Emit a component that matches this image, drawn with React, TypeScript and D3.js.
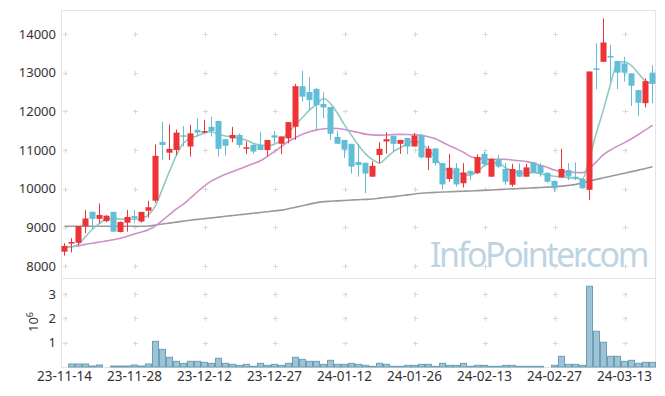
import React, { useEffect, useRef } from "react";
import * as d3 from "d3";

// 거래일
const dates = [
  "23-11-14", "23-11-15", "23-11-16", "23-11-17", "23-11-20", "23-11-21", "23-11-22", "23-11-23", "23-11-24", "23-11-27",
  "23-11-28", "23-11-29", "23-11-30", "23-12-01", "23-12-04", "23-12-05", "23-12-06", "23-12-07", "23-12-08", "23-12-11",
  "23-12-12", "23-12-13", "23-12-14", "23-12-15", "23-12-18", "23-12-19", "23-12-20", "23-12-21", "23-12-22", "23-12-26",
  "23-12-27", "23-12-28", "24-01-02", "24-01-03", "24-01-04", "24-01-05", "24-01-08", "24-01-09", "24-01-10", "24-01-11",
  "24-01-12", "24-01-15", "24-01-16", "24-01-17", "24-01-18", "24-01-19", "24-01-22", "24-01-23", "24-01-24", "24-01-25",
  "24-01-26", "24-01-29", "24-01-30", "24-01-31", "24-02-01", "24-02-02", "24-02-05", "24-02-06", "24-02-07", "24-02-08",
  "24-02-13", "24-02-14", "24-02-15", "24-02-16", "24-02-19", "24-02-20", "24-02-21", "24-02-22", "24-02-23", "24-02-26",
  "24-02-27", "24-02-28", "24-02-29", "24-03-04", "24-03-05", "24-03-06", "24-03-07", "24-03-08", "24-03-11", "24-03-12",
  "24-03-13", "24-03-14", "24-03-15", "24-03-18", "24-03-19",
];

const open = [
  8370, 8580, 8600, 9030, 9400, 9220, 9160, 9400, 8880, 9120,
  9290, 9150, 9430, 9690, 11210, 10930, 11000, 11380, 11090, 11520,
  11450, 11600, 11750, 11280, 11300, 11390, 11050, 11130, 11130, 11000,
  11380, 11160, 11300, 11600, 12650, 12500, 12580, 12190, 12110, 11340,
  11260, 11160, 10690, 10670, 10310, 10870, 11220, 11370, 11160, 11310,
  11090, 11390, 10800, 11040, 10660, 10250, 10530, 10140, 10460, 10400,
  10900, 10310, 10760, 10510, 10100, 10480, 10310, 10680, 10600, 10410,
  10200, 10290, 10480, 10310, 10250, 9970, 13110, 13280, 13430, 13300,
  13240, 12980, 12550, 12210, 13000,
];
const high = [
  8590, 8720, 9030, 9450, 9410, 9620, 9320, 9400, 9150, 9450,
  9450, 9400, 9690, 11140, 11730, 11660, 11530, 11620, 11650, 11820,
  11780, 11860, 11760, 11290, 11600, 11430, 11220, 11180, 11470, 11260,
  11490, 11350, 11720, 12710, 13050, 12880, 12600, 12490, 12110, 11500,
  11260, 11160, 11160, 10670, 10710, 11200, 11460, 11370, 11260, 11310,
  11440, 11400, 11110, 11050, 10670, 10900, 10660, 10660, 10470, 10890,
  10960, 10780, 10870, 10660, 10640, 10660, 10640, 10690, 10660, 10420,
  10210, 11030, 10660, 10680, 10260, 13030, 13760, 14400, 13720, 13310,
  13410, 12990, 12560, 12850, 13190,
];
const low = [
  8270, 8350, 8540, 8850, 8940, 9100, 9130, 8880, 8870, 8890,
  9120, 9120, 9250, 9640, 10750, 10740, 10870, 11090, 10830, 11350,
  11430, 11350, 10830, 10860, 11200, 11060, 10890, 10900, 11000, 10830,
  11170, 10890, 11170, 11260, 12250, 12030, 11540, 11820, 11260, 11160,
  10790, 10390, 10310, 9880, 10310, 10660, 10910, 10960, 10900, 10890,
  11090, 10780, 10480, 10600, 9980, 10180, 10050, 10030, 10220, 10380,
  10570, 10300, 10530, 10100, 10050, 10300, 10300, 10400, 10310, 10150,
  9920, 10290, 10220, 10220, 10000, 9710, 12570, 13280, 12770, 12570,
  12770, 12140, 11880, 12100, 12210,
];
const close = [
  8520, 8620, 9030, 9230, 9220, 9320, 9300, 8890, 9140, 9270,
  9240, 9400, 9520, 10850, 11130, 11030, 11450, 11360, 11430, 11450,
  11490, 11490, 11030, 11110, 11390, 11130, 11070, 10960, 11000, 11260,
  11320, 11350, 11720, 12650, 12380, 12290, 12160, 12100, 11420, 11160,
  11010, 10570, 10610, 10390, 10590, 11030, 11280, 11160, 11260, 11090,
  11370, 10810, 11030, 10660, 10110, 10540, 10110, 10420, 10380, 10820,
  10630, 10770, 10570, 10180, 10510, 10310, 10550, 10410, 10400, 10180,
  10010, 10510, 10310, 10270, 10010, 13030, 13070, 13780, 13410, 13000,
  13000, 12660, 12220, 12780, 12710,
];

// 거래량 (백만 주)
const volume = [
  0, 0.124, 0.124, 0.124, 0.041, 0.083, 0, 0.041, 0.041, 0.041,
  0.083, 0.041, 0.124, 1.06, 0.73, 0.4, 0.234, 0.152, 0.234, 0.234,
  0.193, 0.152, 0.358, 0.152, 0.11, 0.069, 0.11, 0.028, 0.152, 0.069,
  0.11, 0.069, 0.152, 0.4, 0.317, 0.234, 0.234, 0.11, 0.276, 0.11,
  0.11, 0.152, 0.11, 0.069, 0.028, 0.152, 0.11, 0.028, 0.028, 0.069,
  0.069, 0.11, 0.11, 0.028, 0.152, 0.069, 0.069, 0.152, 0.028, 0.069,
  0.069, 0.028, 0.028, 0.069, 0.069, 0.028, 0.028, 0.028, 0.028, 0,
  0.069, 0.441, 0.11, 0.11, 0.069, 3.33, 1.474, 1.019, 0.441, 0.441,
  0.234, 0.276, 0.152, 0.193, 0.193,
];

// 이동평균선 (5일, 20일, 60일)
const ma5 = [
  8480, 8500, 8560, 8760, 8950, 9100, 9220, 9225, 9215, 9210,
  9210, 9235, 9320, 9560, 10000, 10450, 10870, 11180, 11300, 11370,
  11440, 11470, 11400, 11360, 11340, 11305, 11250, 11170, 11130, 11112,
  11150, 11270, 11450, 11650, 11840, 12030, 12180, 12330, 12200, 11950,
  11650, 11380, 11120, 10900, 10750, 10660, 10800, 10960, 11060, 11170,
  11230, 11160, 11000, 10800, 10560, 10450, 10400, 10370, 10350, 10450,
  10600, 10660, 10670, 10540, 10460, 10400, 10400, 10420, 10380, 10350,
  10320, 10300, 10280, 10265, 10250, 10800, 11450, 12050, 12700, 13250,
  13280, 13180, 12980, 12780, 12720,
];
const ma20 = [
  8480, 8500, 8520, 8560, 8590, 8620, 8650, 8680, 8720, 8770,
  8830, 8880, 8940, 9040, 9180, 9330, 9480, 9600, 9760, 9920,
  10070, 10200, 10290, 10370, 10440, 10510, 10580, 10650, 10720, 10840,
  10960, 11090, 11220, 11320, 11410, 11470, 11520, 11545, 11560, 11555,
  11530, 11490, 11450, 11410, 11390, 11385, 11388, 11400, 11405, 11400,
  11392, 11380, 11340, 11290, 11200, 11110, 11030, 10940, 10830, 10790,
  10765, 10760, 10760, 10760, 10740, 10720, 10700, 10660, 10600, 10550,
  10480, 10440, 10430, 10420, 10414, 10520, 10700, 10880, 11000, 11100,
  11190, 11290, 11400, 11520, 11640,
];
const ma60 = [
  9030, 9030, 9030, 9030, 9030, 9030, 9030, 9030, 9030, 9030,
  9030, 9030, 9035, 9060, 9085, 9110, 9135, 9160, 9185, 9205,
  9225, 9245, 9265, 9285, 9305, 9325, 9345, 9365, 9385, 9405,
  9425, 9445, 9480, 9520, 9560, 9600, 9640, 9665, 9675, 9685,
  9695, 9705, 9715, 9722, 9733, 9755, 9775, 9795, 9815, 9840,
  9862, 9880, 9893, 9903, 9912, 9920, 9928, 9934, 9940, 9950,
  9958, 9967, 9976, 9985, 9994, 10003, 10012, 10021, 10030, 10040,
  10052, 10065, 10085, 10110, 10150, 10195, 10240, 10280, 10320, 10360,
  10400, 10440, 10480, 10520, 10565,
];

const priceTicks = [8000, 9000, 10000, 11000, 12000, 13000, 14000];
const volumeTicks = [1, 2, 3];
const dateTickEvery = 10;

export default function App() {
  const ref = useRef<SVGSVGElement>(null);

  useEffect(() => {
    drawChart();
  }, []);

  function drawChart() {
    const svg = d3.select(ref.current);
    svg.selectAll("*").remove();

    const W = 665, H = 396;
    const left = 61, right = 656;
    const top = 10, mid = 278, bottom = 367;
    const font = "'Noto Sans', 'DejaVu Sans', sans-serif";
    const upColor = "#ee3336", downColor = "#62bdd6";

    svg.append("rect").attr("width", W).attr("height", H).attr("fill", "#fff");

    const x = d3.scaleBand<string>().domain(dates).range([left, right]).padding(0);
    const cx = (i: number) => (x(dates[i]) as number) + x.bandwidth() / 2;
    const y = d3.scaleLinear().domain([7690, 14620]).range([mid, top]);
    const yv = d3.scaleLinear().domain([0, 3.67]).range([bottom, mid]);

    // 워터마크 - 글자 간격으로 폭을 맞춤
    const wm = svg.append("text")
      .attr("x", 430).attr("y", 267)
      .attr("font-family", font).attr("font-size", 34)
      .attr("fill", "#bdd4e3")
      .text("InfoPointer.com");
    const natural = (wm.node() as SVGTextElement).getComputedTextLength();
    wm.attr("letter-spacing", (217 - natural) / 15);

    // 격자 (+ 모양)
    const gridX = dates.map((_, i) => i).filter((i) => i % dateTickEvery === 0);
    const cross = svg.append("g").attr("stroke", "#d9d9d9").attr("stroke-width", 1);
    const drawCross = (px: number, py: number) => {
      cross.append("line").attr("x1", px - 2.5).attr("x2", px + 2.5).attr("y1", py).attr("y2", py);
      cross.append("line").attr("x1", px).attr("x2", px).attr("y1", py - 2.5).attr("y2", py + 2.5);
    };
    gridX.forEach((i) => {
      const px = Math.round(cx(i)) + 0.5;
      priceTicks.forEach((t) => drawCross(px, Math.round(y(t)) + 0.5));
      volumeTicks.forEach((t) => drawCross(px, Math.round(yv(t)) + 0.5));
    });

    // 패널 테두리
    const border = svg.append("g").attr("stroke", "#e4e4e4").attr("stroke-width", 1).attr("fill", "none");
    border.append("rect").attr("x", left + 0.5).attr("y", top + 0.5).attr("width", right - left - 1).attr("height", mid - top);
    border.append("rect").attr("x", left + 0.5).attr("y", mid + 0.5).attr("width", right - left - 1).attr("height", bottom - mid);

    // 이동평균선
    const lineOf = (arr: number[]) =>
      d3.line<number>().x((_, i) => cx(i)).y((d) => y(d)).curve(d3.curveMonotoneX)(arr);
    [
      { data: ma60, color: "#9a9a9a" },
      { data: ma20, color: "#cf91c8" },
      { data: ma5, color: "#8fcbbf" },
    ].forEach((m) => {
      svg.append("path").attr("d", lineOf(m.data)).attr("fill", "none")
        .attr("stroke", m.color).attr("stroke-width", 1.6);
    });

    // 캔들
    const candles = svg.append("g");
    dates.forEach((_, i) => {
      const up = close[i] >= open[i];
      const color = up ? upColor : downColor;
      const c = Math.round(cx(i) - 0.5) + 0.5;
      candles.append("line").attr("x1", c).attr("x2", c)
        .attr("y1", y(high[i])).attr("y2", y(low[i]))
        .attr("stroke", color).attr("stroke-width", 1);
      const yTop = y(Math.max(open[i], close[i]));
      const h = Math.max(1.5, Math.abs(y(open[i]) - y(close[i])));
      candles.append("rect").attr("x", c - 3).attr("width", 6)
        .attr("y", yTop).attr("height", h).attr("fill", color);
    });

    // 거래량
    const vg = svg.append("g");
    volume.forEach((v, i) => {
      if (v <= 0) return;
      const x0 = x(dates[i]) as number;
      vg.append("rect")
        .attr("x", x0 + 0.5).attr("width", x.bandwidth() - 1)
        .attr("y", yv(v)).attr("height", bottom - yv(v))
        .attr("fill", "#9ec3d4").attr("stroke", "#6c9fb7").attr("stroke-width", 1);
    });

    // 가격 축 라벨
    svg.append("g").selectAll("text").data(priceTicks).join("text")
      .attr("x", 56).attr("y", (d) => y(d)).attr("dy", "0.35em")
      .attr("text-anchor", "end").attr("font-family", font).attr("font-size", 13)
      .attr("fill", "#333").text((d) => d);

    // 거래량 축 라벨
    svg.append("g").selectAll("text").data(volumeTicks).join("text")
      .attr("x", 56).attr("y", (d) => yv(d)).attr("dy", "0.35em")
      .attr("text-anchor", "end").attr("font-family", font).attr("font-size", 13)
      .attr("fill", "#333").text((d) => d);

    const unit = svg.append("text")
      .attr("transform", "translate(38, 322) rotate(-90)")
      .attr("text-anchor", "middle").attr("font-family", font).attr("font-size", 13)
      .attr("fill", "#333").text("10");
    unit.append("tspan").attr("dy", -5).attr("font-size", 9).text("6");

    // 날짜 라벨
    svg.append("g").selectAll("text").data(gridX).join("text")
      .attr("x", (i) => cx(i)).attr("y", 381)
      .attr("text-anchor", "middle").attr("font-family", font).attr("font-size", 13.5)
      .attr("fill", "#333").text((i) => dates[i]);
  }

  return (
    <svg ref={ref} width={665} height={396}
      style={{ position: "absolute", left: 0, top: 0, display: "block" }} />
  );
}
